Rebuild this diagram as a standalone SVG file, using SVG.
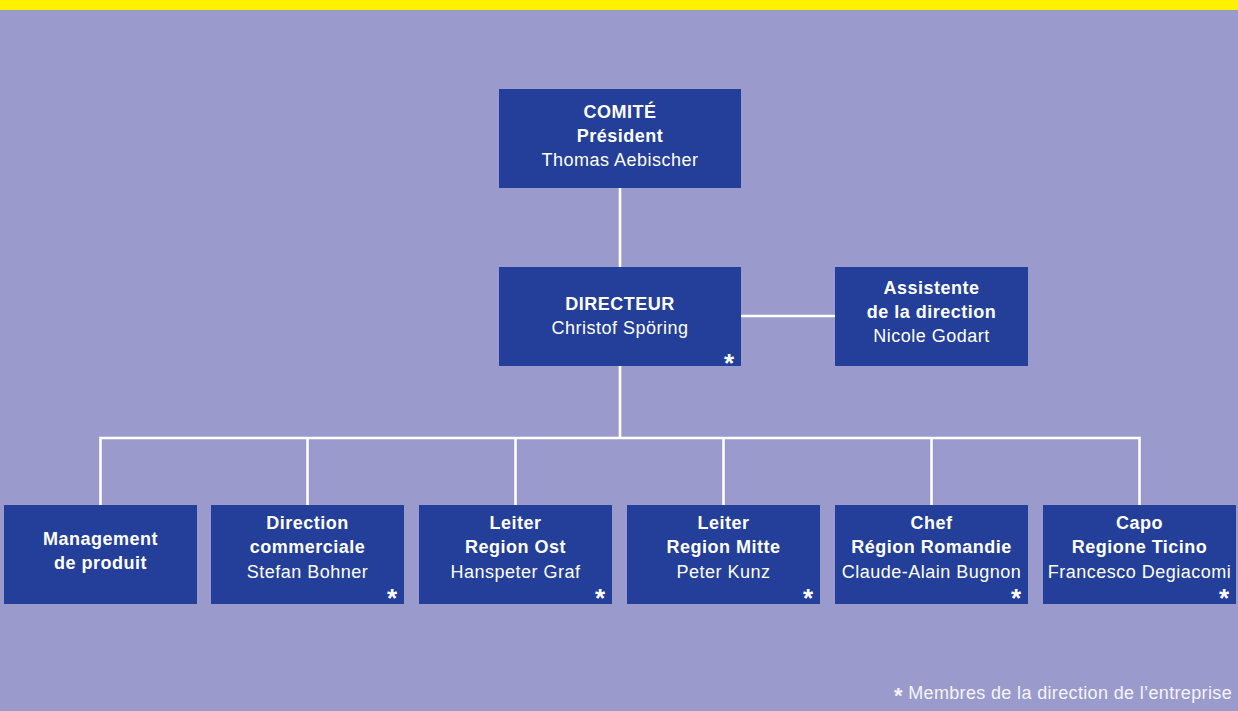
<svg xmlns="http://www.w3.org/2000/svg" width="1238" height="711" viewBox="0 0 1238 711">
<style>
.bg{fill:#9a9bcc}
.bar{fill:#fff200}
.node{fill:#233f99}
text{font-family:"Liberation Sans",Arial,sans-serif;font-size:18px;letter-spacing:0.5px;fill:#ffffff;text-anchor:middle}
.b{font-weight:bold}
.ast{font-size:26px;font-weight:bold;letter-spacing:0;text-anchor:middle}
.conn{stroke:#ffffff;stroke-width:2.6;fill:none}
.foot{font-size:18px;letter-spacing:0.35px;text-anchor:end;fill:#f4f4fb}
</style>
<rect class="bg" x="0" y="0" width="1238" height="711"/>
<rect class="bar" x="0" y="0" width="1238" height="10"/>
<g id="connectors">
<line class="conn" x1="620" y1="187" x2="620" y2="267"/>
<line class="conn" x1="741" y1="316" x2="835" y2="316"/>
<line class="conn" x1="620" y1="366" x2="620" y2="438"/>
<polyline class="conn" points="100.5,505 100.5,438 1139.5,438 1139.5,505"/>
<line class="conn" x1="307.5" y1="438" x2="307.5" y2="505"/>
<line class="conn" x1="515.5" y1="438" x2="515.5" y2="505"/>
<line class="conn" x1="723.5" y1="438" x2="723.5" y2="505"/>
<line class="conn" x1="931.5" y1="438" x2="931.5" y2="505"/>
</g>
<g id="comite">
<rect class="node" x="499" y="89" width="242" height="99"/>
<text class="b" x="620" y="118">COMITÉ</text>
<text class="b" x="620" y="142">Président</text>
<text x="620" y="166">Thomas Aebischer</text>
</g>
<g id="directeur">
<rect class="node" x="499" y="267" width="242" height="99"/>
<text class="b" x="620" y="310">DIRECTEUR</text>
<text x="620" y="334">Christof Spöring</text>
<text class="ast" x="729" y="372">*</text>
</g>
<g id="assistente">
<rect class="node" x="835" y="267" width="193" height="99"/>
<text class="b" x="931.5" y="294">Assistente</text>
<text class="b" x="931.5" y="318">de la direction</text>
<text x="931.5" y="342">Nicole Godart</text>
</g>
<g id="management">
<rect class="node" x="4" y="505" width="193" height="99"/>
<text class="b" x="100.5" y="545">Management</text>
<text class="b" x="100.5" y="569">de produit</text>
</g>
<g id="commerciale">
<rect class="node" x="211" y="505" width="193" height="99"/>
<text class="b" x="307.5" y="529">Direction</text>
<text class="b" x="307.5" y="553">commerciale</text>
<text x="307.5" y="578">Stefan Bohner</text>
<text class="ast" x="392" y="607">*</text>
</g>
<g id="ost">
<rect class="node" x="419" y="505" width="193" height="99"/>
<text class="b" x="515.5" y="529">Leiter</text>
<text class="b" x="515.5" y="553">Region Ost</text>
<text x="515.5" y="578">Hanspeter Graf</text>
<text class="ast" x="600" y="607">*</text>
</g>
<g id="mitte">
<rect class="node" x="627" y="505" width="193" height="99"/>
<text class="b" x="723.5" y="529">Leiter</text>
<text class="b" x="723.5" y="553">Region Mitte</text>
<text x="723.5" y="578">Peter Kunz</text>
<text class="ast" x="808" y="607">*</text>
</g>
<g id="romandie">
<rect class="node" x="835" y="505" width="193" height="99"/>
<text class="b" x="931.5" y="529">Chef</text>
<text class="b" x="931.5" y="553">Région Romandie</text>
<text x="931.5" y="578">Claude-Alain Bugnon</text>
<text class="ast" x="1016" y="607">*</text>
</g>
<g id="ticino">
<rect class="node" x="1043" y="505" width="193" height="99"/>
<text class="b" x="1139.5" y="529">Capo</text>
<text class="b" x="1139.5" y="553">Regione Ticino</text>
<text x="1139.5" y="578">Francesco Degiacomi</text>
<text class="ast" x="1224" y="607">*</text>
</g>
<text class="foot" x="1232" y="699"><tspan font-size="22" font-weight="bold" dy="4">*</tspan><tspan dy="-4"> Membres de la direction de l’entreprise</tspan></text>
</svg>
